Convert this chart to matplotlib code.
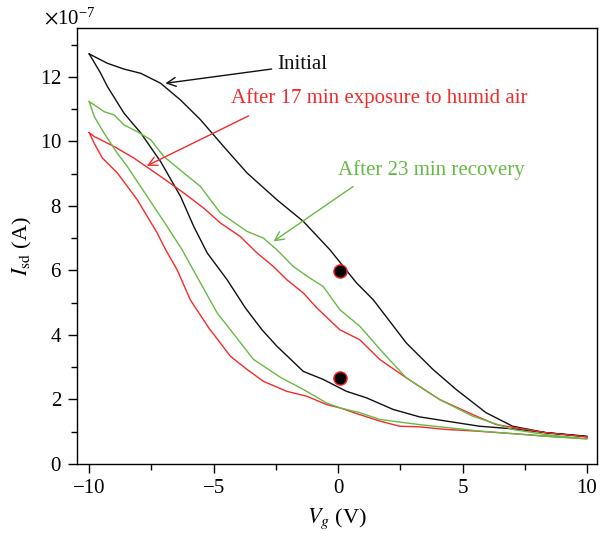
import matplotlib
matplotlib.use("Agg")
import matplotlib.pyplot as plt
import numpy as np
from matplotlib.ticker import MultipleLocator, ScalarFormatter

plt.rcParams['font.family'] = ['Liberation Serif', 'DejaVu Serif']
plt.rcParams['mathtext.fontset'] = 'stix'

SCALE = 1e-7

# Initial loop (values in units of 1e-7 A)
init_up_x = [-10.0, -9.27, -8.60, -7.93, -7.13, -6.33, -5.53, -4.60, -3.66, -2.46, -1.40, -0.33,
             0.74, 1.41, 2.74, 3.81, 4.74, 5.94, 7.01, 8.35, 10.0]
init_up_y = [12.71, 12.42, 12.24, 12.11, 11.80, 11.28, 10.67, 9.84, 9.02, 8.19, 7.52, 6.64,
             5.61, 5.09, 3.75, 2.93, 2.31, 1.59, 1.17, 0.97, 0.86]
init_lo_x = [-10.0, -9.54, -9.27, -8.60, -7.93, -7.13, -6.33, -5.80, -5.26, -4.46, -3.73, -3.06,
             -2.46, -1.40, -0.60, 0.34, 1.14, 2.21, 3.27, 4.34, 5.68, 7.00, 8.35, 10.0]
init_lo_y = [12.71, 12.11, 11.70, 10.87, 10.26, 9.37, 8.29, 7.36, 6.54, 5.71, 4.84, 4.16,
             3.65, 2.87, 2.62, 2.25, 2.05, 1.69, 1.46, 1.33, 1.17, 1.09, 0.97, 0.84]

# After 23 min recovery
rec_up_x = [-10.0, -9.80, -9.40, -9.00, -8.60, -8.07, -7.53, -7.00, -6.20, -5.53, -4.73, -3.66,
            -3.00, -2.46, -1.80, -1.13, -0.60, 0.07, 0.87, 1.81, 2.74, 4.07, 5.41, 7.01, 8.35, 10.0]
rec_up_y = [11.23, 11.13, 10.92, 10.82, 10.51, 10.30, 10.05, 9.53, 9.02, 8.60, 7.78, 7.21,
            7.00, 6.64, 6.12, 5.76, 5.50, 4.78, 4.27, 3.44, 2.67, 2.00, 1.48, 1.07, 0.91, 0.78]
rec_lo_x = [-10.0, -9.80, -9.40, -8.87, -8.47, -7.67, -6.87, -6.27, -5.53, -4.86, -4.33, -3.40,
            -2.33, -1.40, -0.46, 0.07, 0.87, 1.67, 3.27, 5.68, 8.35, 10.0]
rec_lo_y = [11.23, 10.77, 10.25, 9.63, 9.22, 8.29, 7.36, 6.64, 5.61, 4.68, 4.16, 3.24,
            2.69, 2.31, 1.89, 1.74, 1.59, 1.38, 1.22, 1.02, 0.86, 0.78]

# After 17 min exposure to humid air
hum_up_x = [-10.0, -9.80, -9.00, -8.20, -7.13, -6.20, -5.40, -4.73, -3.93, -3.26, -2.60, -2.06,
            -1.40, -0.86, 0.07, 0.87, 1.67, 2.74, 4.07, 5.41, 6.35, 8.35, 10.0]
hum_up_y = [10.27, 10.15, 9.84, 9.48, 8.91, 8.40, 7.93, 7.47, 7.05, 6.54, 6.12, 5.71,
            5.30, 4.84, 4.16, 3.85, 3.24, 2.67, 2.00, 1.53, 1.22, 0.97, 0.84]
hum_lo_x = [-10.0, -9.80, -9.47, -8.87, -8.07, -7.27, -6.93, -6.47, -5.94, -5.20, -4.33, -3.66,
            -3.00, -2.06, -1.26, -0.46, 0.07, 0.87, 1.67, 2.47, 3.27, 4.34, 5.54, 7.55, 8.35, 10.0]
hum_lo_y = [10.27, 9.94, 9.48, 9.02, 8.19, 7.16, 6.64, 6.02, 5.09, 4.22, 3.34, 2.93,
            2.56, 2.25, 2.10, 1.84, 1.74, 1.53, 1.33, 1.17, 1.15, 1.07, 1.02, 0.91, 0.86, 0.78]

dots_x = [0.07, 0.07]
dots_y = [5.98, 2.65]

c_black = '#111111'
c_red = '#f52a2a'
c_green = '#66bb44'

fig = plt.figure(figsize=(6.0, 5.37), dpi=100)
ax = fig.add_axes([0.128, 0.136, 0.867, 0.811])

def loop(ux, uy, lx, ly):
    x = np.concatenate([ux, lx[::-1]])
    y = np.concatenate([uy, ly[::-1]]) * SCALE
    return x, y

for ux, uy, lx, ly, c in [(init_up_x, init_up_y, init_lo_x, init_lo_y, c_black),
                           (hum_up_x, hum_up_y, hum_lo_x, hum_lo_y, c_red),
                           (rec_up_x, rec_up_y, rec_lo_x, rec_lo_y, c_green)]:
    x, y = loop(np.array(ux), np.array(uy), np.array(lx), np.array(ly))
    ax.plot(x, y, color=c, lw=1.0, solid_joinstyle='round')

ax.plot(dots_x, np.array(dots_y) * SCALE, 'o', ms=9.5, mfc='black', mec='#ff2020', mew=1.0,
        linestyle='none')

ax.set_xlim(-10.5, 10.4)
ax.set_ylim(0, 13.5 * SCALE)

ax.xaxis.set_major_locator(MultipleLocator(5))
ax.xaxis.set_minor_locator(MultipleLocator(2.5))
ax.yaxis.set_major_locator(MultipleLocator(2 * SCALE))
ax.yaxis.set_minor_locator(MultipleLocator(1 * SCALE))
fmt = ScalarFormatter(useMathText=True)
fmt.set_powerlimits((-7, -7))
ax.yaxis.set_major_formatter(fmt)

ax.tick_params(axis='both', which='major', direction='out', length=6.8, width=1, labelsize=15,
               top=False, right=False)
ax.tick_params(axis='both', which='minor', direction='out', length=4.3, width=1,
               top=False, right=False)
ax.tick_params(axis='x', pad=4)
ax.tick_params(axis='y', pad=4)
ot = ax.yaxis.get_offset_text()
ot.set_fontsize(15)
ot.set_horizontalalignment('center')
ot.set_x(-0.013)

for s in ax.spines.values():
    s.set_linewidth(1.0)

ax.set_xlabel(r'$V_g$ (V)', fontsize=16, labelpad=6)
ax.set_ylabel(r'$I_{\mathrm{sd}}$ (A)', fontsize=16, labelpad=4)

ax.annotate('Initial', xy=(-6.94, 11.80 * SCALE), xytext=(-2.45, 12.37 * SCALE),
            fontsize=15, color=c_black, ha='left', va='center',
            arrowprops=dict(arrowstyle='->', color=c_black, lw=1.0, shrinkA=2, shrinkB=0,
                            mutation_scale=16))
ax.annotate('After 17 min exposure to humid air', xy=(-7.69, 9.24 * SCALE),
            xytext=(-4.30, 11.34 * SCALE), fontsize=15, color=c_red, ha='left', va='center')
ax.annotate('', xy=(-7.69, 9.24 * SCALE), xytext=(-3.60, 10.79 * SCALE),
            arrowprops=dict(arrowstyle='->', color=c_red, lw=1.0, shrinkA=0, shrinkB=0,
                            mutation_scale=16))
ax.annotate('After 23 min recovery', xy=(-2.60, 6.90 * SCALE),
            xytext=(0.0, 9.12 * SCALE), fontsize=15, color=c_green, ha='left', va='center')
ax.annotate('', xy=(-2.60, 6.90 * SCALE), xytext=(0.60, 8.60 * SCALE),
            arrowprops=dict(arrowstyle='->', color=c_green, lw=1.0, shrinkA=0, shrinkB=0,
                            mutation_scale=16))

fig.savefig('out.png', dpi=100)
